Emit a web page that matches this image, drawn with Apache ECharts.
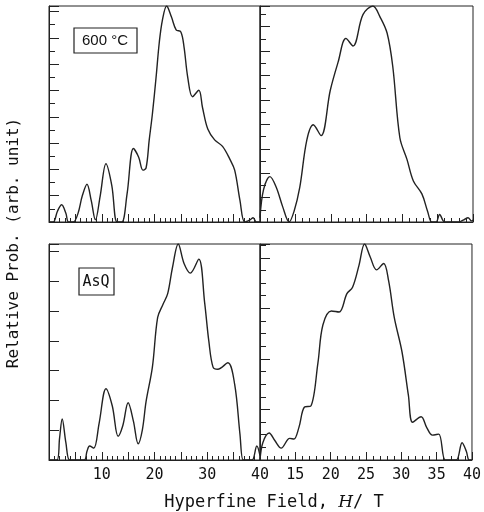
<!DOCTYPE html>
<html>
<head>
<meta charset="utf-8">
<script src="https://cdn.jsdelivr.net/npm/echarts@6/dist/echarts.min.js"></script>
<style>
html,body{margin:0;padding:0;background:#fff;}
#main{width:484px;height:512px;}
</style>
</head>
<body>
<div id="main"></div>
<script>
// 600 °C, left panel (field 0-40 T)
var tlX = [0, 0.8, 1.6, 2.4, 3.2, 3.7, 4.6, 5.5, 6.3, 7.2, 8.0, 8.8, 9.7, 10.8, 11.9, 12.9, 13.8, 14.8, 16.0, 17.0, 17.8, 18.4, 19.0, 19.6, 20.3, 20.9, 21.5, 22.3, 23.2, 24.1, 25.0, 25.6, 26.3, 27.2, 28.4, 29.1, 30.1, 31.4, 32.9, 34.3, 35.2, 36.2, 37.1, 38.1, 38.7, 39.3, 40];
var tlY = [0, 0, 0.05, 0.08, 0.04, 0, 0, 0.04, 0.12, 0.175, 0.1, 0.01, 0.12, 0.27, 0.17, 0, 0, 0.13, 0.34, 0.3, 0.24, 0.25, 0.38, 0.5, 0.67, 0.83, 0.935, 1.0, 0.95, 0.89, 0.88, 0.81, 0.67, 0.58, 0.61, 0.53, 0.43, 0.38, 0.35, 0.29, 0.24, 0.1, 0, 0.01, 0.02, 0, 0];
// 600 °C, right panel (field 10-40 T)
var trX = [10, 10.5, 11.4, 12.3, 13.2, 14.1, 14.8, 15.6, 16.6, 17.5, 18.6, 19.9, 21.0, 22.1, 23.1, 24.5, 25.9, 26.9, 27.9, 28.7, 29.7, 30.7, 31.6, 32.8, 33.6, 34.2, 34.8, 35.3, 36.0, 37, 38, 38.7, 39.3, 39.8, 40];
var trY = [0.02, 0.15, 0.21, 0.16, 0.07, 0, 0.05, 0.16, 0.38, 0.45, 0.40, 0.61, 0.74, 0.85, 0.815, 0.96, 1.0, 0.95, 0.875, 0.72, 0.39, 0.29, 0.19, 0.13, 0.05, 0, 0, 0.035, 0, 0, 0, 0.01, 0.02, 0.005, 0.01];
// AsQ, left panel
var blX = [0, 1.5, 2.0, 2.5, 3.2, 3.9, 5, 6.7, 7.2, 7.7, 8.5, 9.5, 10.8, 12.0, 13.1, 14.0, 15.0, 16.0, 16.9, 17.7, 18.4, 19.6, 20.6, 21.6, 22.5, 23.4, 24.5, 25.6, 26.8, 28.4, 29.5, 30.3, 31.1, 32.0, 33.9, 35.2, 36.2, 36.8, 37.5, 38.5, 39.4, 40];
var blY = [0, 0, 0.1, 0.19, 0.08, 0, 0, 0, 0.04, 0.065, 0.055, 0.17, 0.33, 0.25, 0.11, 0.16, 0.265, 0.18, 0.075, 0.14, 0.27, 0.43, 0.66, 0.72, 0.77, 0.89, 1.0, 0.91, 0.865, 0.93, 0.73, 0.55, 0.43, 0.42, 0.45, 0.35, 0.12, 0, 0, 0, 0.065, 0.02];
// AsQ, right panel
var brX = [10, 10.4, 11.3, 12.1, 13.0, 14.2, 14.8, 15.5, 16.3, 17.2, 18.2, 18.9, 20.1, 21.2, 22.3, 23.1, 24.0, 24.8, 25.6, 26.5, 27.5, 28.2, 29.0, 30.1, 31.0, 31.6, 32.8, 33.6, 34.4, 35.3, 36.2, 37.0, 37.8, 38.6, 39.2, 39.6, 40];
var brY = [0, 0.08, 0.125, 0.09, 0.055, 0.10, 0.097, 0.15, 0.245, 0.25, 0.45, 0.625, 0.69, 0.685, 0.77, 0.80, 0.9, 1.0, 0.94, 0.88, 0.91, 0.83, 0.66, 0.50, 0.3, 0.175, 0.20, 0.15, 0.115, 0.12, 0, 0, 0, 0.08, 0.04, 0, 0];

var xTicks = [10, 20, 30, 40];   // left panel labels
var xTicksR = [15, 20, 25, 30, 35, 40]; // right panel labels

function zip(xs, ys) {
    var out = [];
    for (var i = 0; i < xs.length; i++) out.push([xs[i], ys[i]]);
    return out;
}

var ink = '#222';
var mono = '"DejaVu Sans Mono", monospace';

function xAx(idx, min, labels, showLabel) {
    return {
        type: 'value', gridIndex: idx, min: min, max: 40, interval: 5,
        axisLine: {lineStyle: {color: ink, width: 1}},
        axisTick: {inside: true, length: 8, lineStyle: {color: ink}},
        minorTick: {show: true, splitNumber: 5, length: 4, lineStyle: {color: ink}},
        splitLine: {show: false},
        axisLabel: {
            show: showLabel, color: '#111', fontFamily: mono, fontSize: 15, margin: 8,
            formatter: function (v) { return labels.indexOf(v) >= 0 ? String(v) : ''; }
        }
    };
}
function yAx(idx, interval, minor) {
    return {
        type: 'value', gridIndex: idx, min: 0, max: 1, interval: interval,
        axisLine: {lineStyle: {color: ink, width: 1}},
        axisTick: {inside: true, length: 10, lineStyle: {color: ink}},
        minorTick: {show: minor > 0, splitNumber: minor || 5, length: 6, lineStyle: {color: ink}},
        splitLine: {show: false},
        axisLabel: {show: false}
    };
}
function ser(idx, xs, ys) {
    return {
        type: 'line', xAxisIndex: idx, yAxisIndex: idx, data: zip(xs, ys),
        smooth: 0.35, showSymbol: false, clip: true,
        lineStyle: {color: ink, width: 1.4}
    };
}

var myChart = echarts.init(document.getElementById('main'));
var option = {
    backgroundColor: '#fff',
    animation: false,
    grid: [
        {left: 49, top: 6, width: 211, height: 216, show: true, borderColor: ink, borderWidth: 1},
        {left: 260, top: 6, width: 213, height: 216, show: true, borderColor: ink, borderWidth: 1},
        {left: 49, top: 244, width: 211, height: 216, show: true, borderColor: ink, borderWidth: 1},
        {left: 260, top: 244, width: 213, height: 216, show: true, borderColor: ink, borderWidth: 1}
    ],
    xAxis: [
        xAx(0, 0, xTicks, false),
        xAx(1, 10, xTicksR, false),
        xAx(2, 0, xTicks, true),
        xAx(3, 10, xTicksR, true)
    ],
    yAxis: [
        yAx(0, 0.1218, 2),
        yAx(1, 0.113, 2),
        yAx(2, 0.138, 0),
        yAx(3, 0.234, 4)
    ],
    series: [
        ser(0, tlX, tlY),
        ser(1, trX, trY),
        ser(2, blX, blY),
        ser(3, brX, brY)
    ],
    graphic: [
        {type: 'rect', shape: {x: 74, y: 28, width: 63, height: 25}, style: {fill: '#fff', stroke: ink, lineWidth: 1.2}},
        {type: 'text', x: 105, y: 41, style: {text: '600 °C', fill: '#111', font: '15px "Liberation Sans", Arial', align: 'center', verticalAlign: 'middle'}},
        {type: 'rect', shape: {x: 79, y: 268, width: 35, height: 27}, style: {fill: '#fff', stroke: ink, lineWidth: 1.2}},
        {type: 'text', x: 96, y: 282, style: {text: 'AsQ', fill: '#111', font: '15px ' + mono, align: 'center', verticalAlign: 'middle'}},
        {type: 'text', x: 14, y: 243, rotation: Math.PI / 2,
            style: {text: 'Relative Prob. (arb. unit)', fill: '#111', font: '16px ' + mono, align: 'center', verticalAlign: 'middle'}},
        {type: 'text', x: 274, y: 503,
            style: {
                text: '{a|Hyperfine Field, }{b|H}{a|/ T}',
                align: 'center', verticalAlign: 'middle',
                rich: {
                    a: {fontFamily: mono, fontSize: 17, fill: '#111'},
                    b: {fontFamily: '"DejaVu Serif", serif', fontStyle: 'italic', fontSize: 17, fill: '#111'}
                }
            }}
    ]
};
myChart.setOption(option);
</script>
</body>
</html>
